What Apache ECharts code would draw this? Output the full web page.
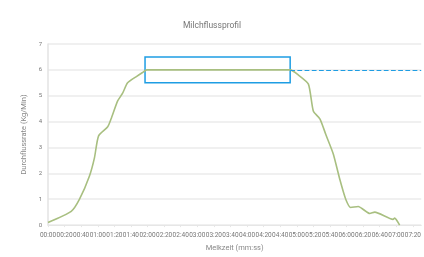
<!DOCTYPE html>
<html>
<head>
<meta charset="utf-8">
<script src="https://cdn.jsdelivr.net/npm/echarts@6/dist/echarts.min.js"></script>
<style>
  html, body { margin: 0; padding: 0; background: #fff; }
  #chart { width: 424px; height: 257px; }
</style>
</head>
<body>
<div id="chart"></div>
<script>
// Melkzeit in Sekunden, Durchflussrate in Kg/Min
const seconds = [0, 28, 38, 50, 56, 61, 72, 76, 84, 90, 96, 107, 114, 119, 292, 302, 314, 320, 328, 335, 344, 352, 359, 365, 374, 388, 394, 416, 418, 424];
const flow = [0.1, 0.53, 1.0, 1.9, 2.6, 3.45, 3.8, 4.1, 4.8, 5.1, 5.5, 5.75, 5.9, 6.0, 6.0, 5.8, 5.45, 4.4, 4.1, 3.5, 2.75, 1.75, 1.0, 0.68, 0.72, 0.45, 0.5, 0.22, 0.27, 0.0];

// Hauptmelkphase (Box) und Referenzlinie
const plateauStart = 117;
const plateauEnd = 292;
const plateauLow = 5.5;
const plateauHigh = 6.5;
const plateauLevel = 6;
const xMax = 450;

const fmt = (s) => {
  const m = Math.floor(s / 60), r = s % 60;
  return String(m).padStart(2, '0') + ':' + String(r).padStart(2, '0');
};

const chart = echarts.init(document.getElementById('chart'));

chart.setOption({
  animation: false,
  title: {
    text: 'Milchflussprofil',
    left: 'center',
    top: 16,
    textStyle: { fontSize: 8.5, fontWeight: 'normal', color: '#777', fontFamily: 'Roboto' },
  },
  grid: { left: 48, right: 0, top: 44, bottom: 27 },
  xAxis: {
    type: 'value',
    min: 0,
    max: xMax,
    interval: 20,
    name: 'Melkzeit (mm:ss)',
    nameLocation: 'middle',
    nameGap: 18,
    nameTextStyle: { fontSize: 7.5, color: '#888', fontFamily: 'Roboto' },
    axisLine: { show: true, lineStyle: { color: '#e6e6e6' } },
    axisTick: { show: true, length: 2, lineStyle: { color: '#e6e6e6' } },
    splitLine: { show: false },
    axisLabel: {
      fontSize: 6.5, color: '#777', margin: 7, fontFamily: 'Roboto',
      showMinLabel: true,
      showMaxLabel: false,
      hideOverlap: false,
      formatter: (v) => fmt(v),
    },
  },
  yAxis: {
    type: 'value',
    min: 0,
    max: 7,
    interval: 1,
    name: 'Durchflussrate (Kg/Min)',
    nameLocation: 'middle',
    nameGap: 14,
    nameTextStyle: { fontSize: 7.5, color: '#888', fontFamily: 'Roboto' },
    axisLine: { show: true, lineStyle: { color: '#e3e3e3', width: 1.5 } },
    axisTick: { show: false },
    axisLabel: { fontSize: 6, color: '#777', margin: 6, fontFamily: 'Roboto' },
    splitLine: { lineStyle: { color: '#ebebeb', width: 1.5 } },
  },
  series: [
    {
      type: 'line',
      data: seconds.map((s, i) => [s, flow[i]]),
      showSymbol: false,
      smooth: 0.2,
      lineStyle: { color: '#a8bf80', width: 1.6 },
      markArea: {
        silent: true,
        itemStyle: { color: 'rgba(0,0,0,0)', borderColor: '#1e9de3', borderWidth: 1.5 },
        data: [[{ coord: [plateauStart, plateauHigh] }, { coord: [plateauEnd, plateauLow] }]],
      },
      markLine: {
        silent: true,
        symbol: 'none',
        label: { show: false },
        lineStyle: { color: '#1e9de3', type: 'dashed', width: 1.2 },
        data: [[{ coord: [plateauEnd, plateauLevel] }, { coord: [xMax, plateauLevel] }]],
      },
    },
  ],
});
</script>
</body>
</html>
